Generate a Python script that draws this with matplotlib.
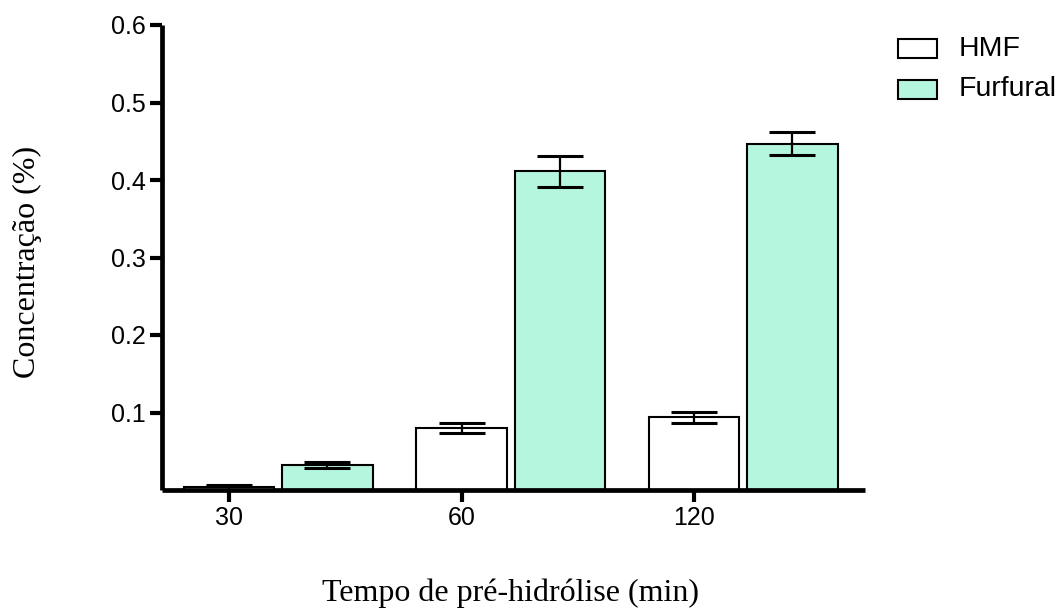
import matplotlib
matplotlib.use("Agg")
import matplotlib.pyplot as plt
import numpy as np
from matplotlib.patches import Rectangle

# Pre-hydrolysis times and measured concentrations (%)
times = ["30", "60", "120"]
hmf = [0.0035, 0.080, 0.094]
hmf_err = [0.003, 0.0065, 0.007]
furfural = [0.032, 0.411, 0.447]
furfural_err = [0.0035, 0.020, 0.0145]
yticks = [0.1, 0.2, 0.3, 0.4, 0.5, 0.6]
series_names = ["HMF", "Furfural"]

W, H = 1062, 609
fig = plt.figure(figsize=(W / 100, H / 100), dpi=100)
ax = fig.add_axes([162 / W, 1 - 490 / H, (865 - 162) / W, (490 - 25) / H])

x = np.arange(len(times))
width = 0.39
offset = 0.423
mint = "#b5f6de"
colors = ["white", mint]

ax.bar(x, hmf, width, color=colors[0], edgecolor="black", linewidth=1.5, zorder=2)
ax.bar(x + offset, furfural, width, color=colors[1], edgecolor="black", linewidth=1.5, zorder=2)
for xs, vals, errs in ((x, hmf, hmf_err), (x + offset, furfural, furfural_err)):
    ax.errorbar(xs, vals, yerr=errs, fmt="none", ecolor="black", elinewidth=1.6,
                capsize=16.5, capthick=2.2, zorder=3)

ax.set_xlim(-0.288, 2.735)
ax.set_ylim(0, 0.6)
ax.set_xticks(x)
ax.set_xticklabels(times)
ax.set_yticks(yticks)
ax.set_yticklabels([f"{v:.1f}" for v in yticks])

for side in ("top", "right"):
    ax.spines[side].set_visible(False)
for side in ("left", "bottom"):
    ax.spines[side].set_linewidth(3.4)
    ax.spines[side].set_capstyle("butt")
ax.tick_params(axis="both", width=3.0, length=8.3, labelsize=18, pad=3.2,
               labelfontfamily="Liberation Sans")

# Axis titles
fig.text(27 / W, 1 - 262 / H, "Concentração (%)", family="Liberation Serif", fontsize=23,
         rotation=90, ha="center", va="center")
fig.text(511 / W, 1 - 601 / H, "Tempo de pré-hidrólise (min)", family="Liberation Serif",
         fontsize=23, ha="center", va="baseline")

# Legend
for i, (name, col) in enumerate(zip(series_names, colors)):
    yc = 48.5 + 40.5 * i
    fig.patches.append(Rectangle((898 / W, 1 - (yc + 9.5) / H), 39 / W, 19 / H,
                                 transform=fig.transFigure, facecolor=col,
                                 edgecolor="black", linewidth=1.5))
    fig.text(959 / W, 1 - yc / H, name, family="Liberation Sans", fontsize=20.5,
             ha="left", va="center")

fig.savefig("out.png", dpi=100)
